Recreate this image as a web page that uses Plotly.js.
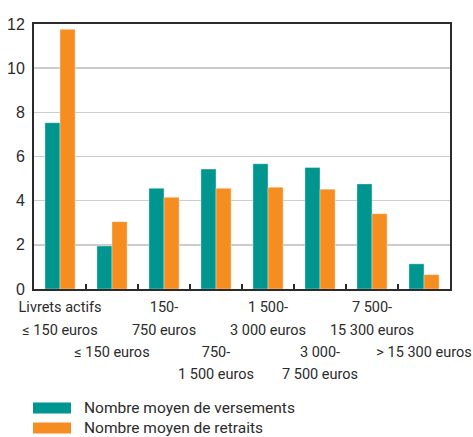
<!DOCTYPE html>
<html>
<head>
<meta charset="utf-8">
<script src="https://cdn.plot.ly/plotly-3.0.1.min.js"></script>
<style>html,body{margin:0;padding:0;background:#fff;}#chart{width:473px;height:437px;}</style>
</head>
<body>
<div id="chart"></div>
<script>
// Categories (two lines each)
const categories = [
  ["Livrets actifs", "≤ 150 euros"],
  ["≤ 150 euros"],
  ["150-", "750 euros"],
  ["750-", "1 500 euros"],
  ["1 500-", "3 000 euros"],
  ["3 000-", "7 500 euros"],
  ["7 500-", "15 300 euros"],
  ["> 15 300 euros"]
];
const seriesNames = ["Nombre moyen de versements", "Nombre moyen de retraits"];
const versements = [7.53, 1.95, 4.56, 5.43, 5.67, 5.50, 4.76, 1.14];
const retraits   = [11.76, 3.05, 4.15, 4.56, 4.61, 4.52, 3.41, 0.65];
const yTicks = [0, 2, 4, 6, 8, 10, 12];

const colors = ["#00968F", "#F68D20"];
const font = "Roboto, 'Liberation Sans', Arial, sans-serif";
const regular = "'Liberation Sans', Arial, sans-serif";

const xKeys = categories.map((c, i) => "c" + i);
const wrap = s => "<span style=\"font-size:14.5px\">" + s + "</span>";
const tickText = categories.map((c, i) => (i % 2 === 1 ? " <br> <br>" : "") + c.map(wrap).join("<br>"));

const traces = [versements, retraits].map((vals, k) => ({
  type: "bar",
  name: seriesNames[k],
  x: xKeys,
  y: vals,
  marker: {color: colors[k], line: {color: "rgba(255,255,255,0.6)", width: 0.6}},
  showlegend: false,
  hoverinfo: "none"
}));

const shapes = [];
const annotations = [];
seriesNames.forEach((n, k) => {
  const yc = 408 + k * 20;
  shapes.push({type: "rect", xref: "paper", yref: "paper",
    x0: (33 - 34) / 416, x1: (71 - 34) / 416,
    y0: (289 - (yc + 5.5)) / 265, y1: (289 - (yc - 5.5)) / 265,
    fillcolor: colors[k], line: {width: 0}});
  annotations.push({xref: "paper", yref: "paper", x: (82 - 34) / 416, y: (289 - yc) / 265,
    xanchor: "left", yanchor: "middle", showarrow: false, text: n,
    font: {family: font, size: 15.5, color: "#2b2b2b"}});
});

const layout = {
  width: 473, height: 437,
  margin: {l: 34, r: 23, t: 24, b: 148},
  paper_bgcolor: "#fff", plot_bgcolor: "#fff",
  barmode: "group", bargap: 0.42, bargroupgap: 0,
  font: {family: font, size: 15, color: "#2b2b2b"},
  xaxis: {
    type: "category", tickvals: xKeys, ticktext: tickText,
    tickson: "boundaries", ticks: "inside", ticklen: 5, tickwidth: 2, tickcolor: "#2b2b2b",
    showline: true, linecolor: "#2b2b2b", linewidth: 2, mirror: true,
    showgrid: false, tickangle: 0, tickfont: {family: font, size: 17}, ticklabelstandoff: 1, automargin: false
  },
  yaxis: {
    range: [0, 12], tickvals: yTicks, ticks: "", showline: true, linecolor: "#2b2b2b", linewidth: 2,
    mirror: true, showgrid: true, gridcolor: "#cccccc", gridwidth: 1.5, zeroline: false,
    tickfont: {family: regular, size: 16}, ticklabelstandoff: 4, automargin: false
  },
  shapes: shapes,
  annotations: annotations
};

Plotly.newPlot("chart", traces, layout, {displayModeBar: false, staticPlot: true});
</script>
</body>
</html>
